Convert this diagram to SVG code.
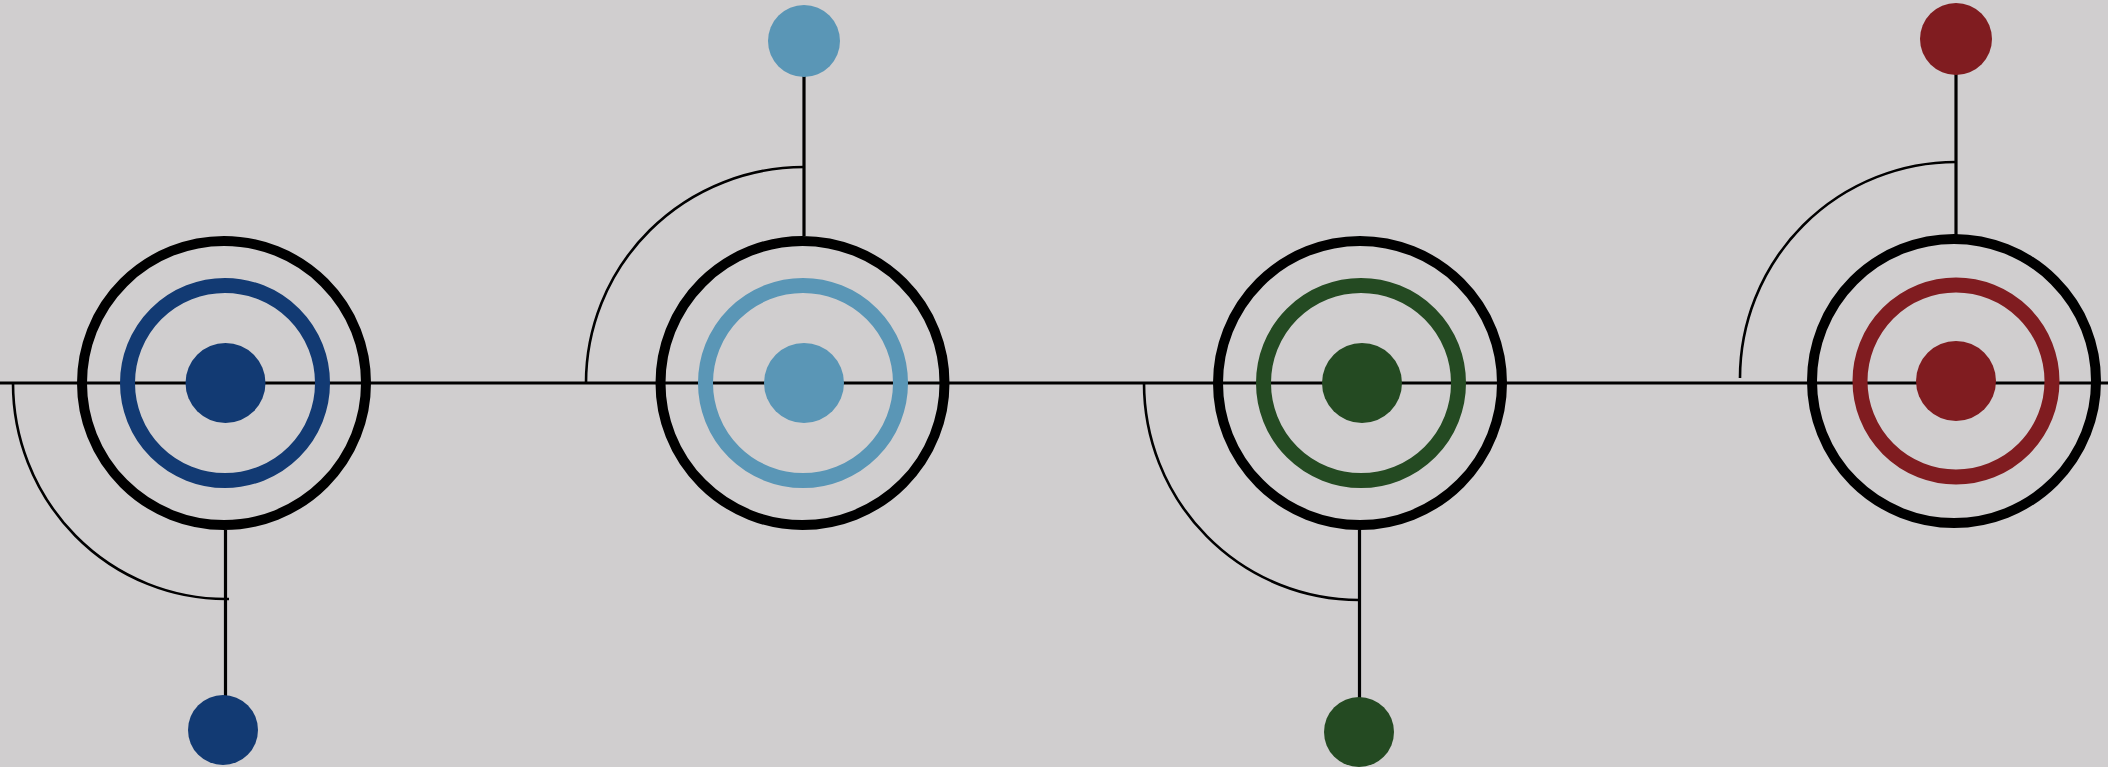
<svg xmlns="http://www.w3.org/2000/svg" width="2108" height="767" viewBox="0 0 2108 767">
<style>
.bg{fill:#d0cecf}
.ln{stroke:#000;stroke-width:3.2;fill:none}
.arc{stroke:#000;stroke-width:2.6;fill:none}
.outer{fill:none;stroke:#000;stroke-width:10}
.ring{fill:none;stroke-width:15}
.blue{fill:#123a73;stroke:#123a73}
.lblue{fill:#5a96b6;stroke:#5a96b6}
.green{fill:#244a22;stroke:#244a22}
.red{fill:#801c20;stroke:#801c20}
.dot{stroke:none}
</style>
<rect class="bg" x="0" y="0" width="2108" height="767"/>
<g id="connectors">
<path class="ln" d="M0,383 H2108"/>
<path class="ln" d="M225.5,530 V697"/>
<path class="ln" d="M804,75 V236"/>
<path class="ln" d="M1359.5,530 V699"/>
<path class="ln" d="M1956,73 V235"/>
<path class="arc" d="M13,383 A213,216 0 0 0 226,599 L229,599"/>
<path class="arc" d="M586,383 A218,216 0 0 1 804,167"/>
<path class="arc" d="M1144,383 A215,217 0 0 0 1359,600"/>
<path class="arc" d="M1740,378 A216,216 0 0 1 1956,162"/>
</g>
<g id="target-1">
<circle class="outer" cx="224" cy="383" r="142"/>
<circle class="ring blue" style="fill:none" cx="225" cy="383" r="97.5"/>
<circle class="dot blue" cx="225.5" cy="383" r="40"/>
</g>
<g id="target-2">
<circle class="outer" cx="802.5" cy="383" r="142"/>
<circle class="ring lblue" style="fill:none" cx="803" cy="383" r="97.5"/>
<circle class="dot lblue" cx="804" cy="383" r="40"/>
</g>
<g id="target-3">
<circle class="outer" cx="1360" cy="383" r="142"/>
<circle class="ring green" style="fill:none" cx="1361" cy="383" r="97.5"/>
<circle class="dot green" cx="1362" cy="383" r="40"/>
</g>
<g id="target-4">
<circle class="outer" cx="1954" cy="381" r="142"/>
<circle class="ring red" style="fill:none" cx="1956" cy="381" r="96"/>
<circle class="dot red" cx="1956" cy="381" r="40"/>
</g>
<g id="dot-1"><circle class="dot blue" cx="223" cy="730" r="35"/></g>
<g id="dot-2"><circle class="dot lblue" cx="804" cy="41" r="36"/></g>
<g id="dot-3"><circle class="dot green" cx="1359" cy="732" r="35"/></g>
<g id="dot-4"><circle class="dot red" cx="1956" cy="39" r="36"/></g>
</svg>
